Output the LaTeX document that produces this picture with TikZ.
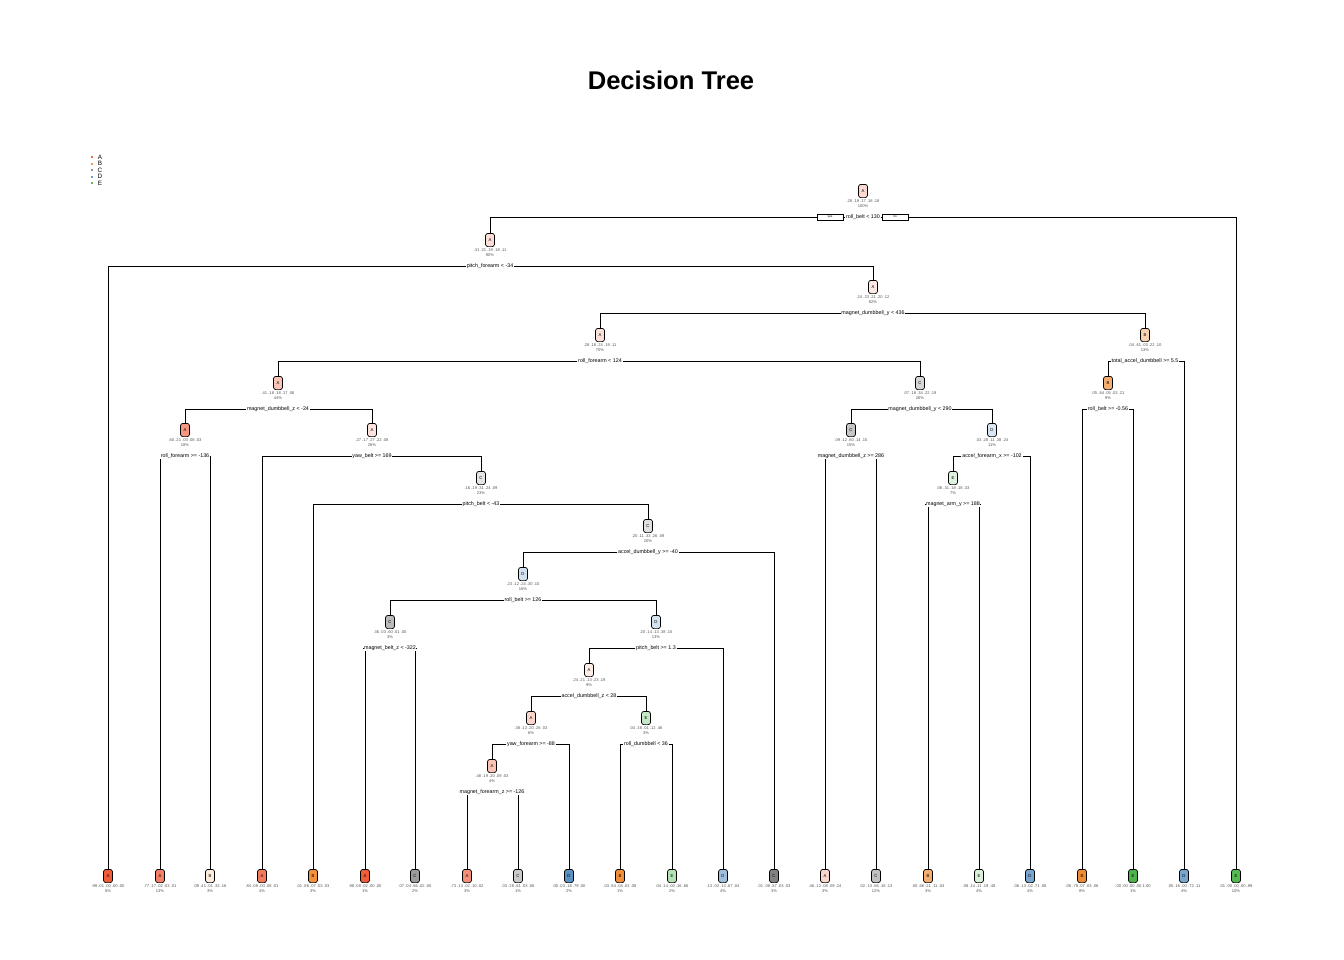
\documentclass[tikz,border=0pt]{standalone}
\usepackage{fontspec}
\setmainfont{Liberation Sans}
\usetikzlibrary{backgrounds}
\definecolor{clsA}{HTML}{F26B4B}
\definecolor{clsB}{HTML}{F39A4E}
\definecolor{clsC}{HTML}{979797}
\definecolor{clsD}{HTML}{6A9CC9}
\definecolor{clsE}{HTML}{5DBB5D}
\definecolor{infotext}{HTML}{555555}

% one tree node: name, x, y, class, fill, probabilities, percent
\newcommand{\tnode}[7]{%
  \node[nbox,fill=#5] (#1) at (#2,#3) {#4};
  \node[info] (#1-i) at ([yshift=-0.3125cm]#1.center) {#6\\#7};}
% split label under a node
\newcommand{\tsplit}[2]{\node[split] (#1-s) at ([yshift=-0.65cm]#1.center) {#2};}

\begin{document}
\begin{tikzpicture}[x=0.025cm,y=-0.025cm,
    nbox/.style={draw,rounded corners=0.6mm,minimum width=0.225cm,minimum height=0.33cm,
      inner sep=0pt,line width=0.5pt,font=\fontsize{3}{3}\selectfont},
    info/.style={inner sep=0pt,align=center,text=infotext,font=\fontsize{2.9}{3.55}\selectfont},
    split/.style={fill=white,inner sep=0.4pt,font=\fontsize{3.8}{4}\selectfont},
    yesno/.style={draw,fill=white,inner sep=0pt,minimum width=0.65cm,minimum height=0.15cm,
      line width=0.5pt,font=\fontsize{2.2}{2.2}\selectfont},
    lmark/.style={fill,inner sep=0pt,minimum width=0.07cm,minimum height=0.05cm},
    legtxt/.style={inner sep=0pt,font=\fontsize{4.5}{4.5}\selectfont},
    edge/.style={line width=0.6pt}]
  \useasboundingbox (0,0) rectangle (1344,960);

  \node[font=\fontsize{18.2}{20}\selectfont\bfseries] (title) at (671,80) {Decision Tree};

  % legend
  \node[lmark,fill=clsA] (lgA) at (92,157) {};
  \node[lmark,fill=clsB] (lgB) at (92,163.6) {};
  \node[lmark,fill=clsC] (lgC) at (92,170.2) {};
  \node[lmark,fill=clsD] (lgD) at (92,176.8) {};
  \node[lmark,fill=clsE] (lgE) at (92,183.4) {};
  \node[legtxt] (lgA-t) at (100,157) {A};
  \node[legtxt] (lgB-t) at (100,163.6) {B};
  \node[legtxt] (lgC-t) at (100,170.2) {C};
  \node[legtxt] (lgD-t) at (100,176.8) {D};
  \node[legtxt] (lgE-t) at (100,183.4) {E};

  % inner nodes
  \tnode{n1}{863}{191}{A}{clsA!25}{.28 .19 .17 .16 .18}{100\%}
  \tsplit{n1}{roll\_belt < 130}
  \node[yesno] (yes) at (830,217) {yes};
  \node[yesno] (no) at (895,217) {no};
  \tnode{n2}{490}{240}{A}{clsA!22}{.31 .21 .19 .18 .11}{90\%}
  \tsplit{n2}{pitch\_forearm < -34}
  \tnode{n5}{873}{287}{A}{clsA!15}{.24 .23 .21 .20 .12}{82\%}
  \tsplit{n5}{magnet\_dumbbell\_y < 436}
  \tnode{n10}{600}{335}{A}{clsA!20}{.28 .18 .24 .19 .11}{70\%}
  \tsplit{n10}{roll\_forearm < 124}
  \tnode{n11}{1145}{335}{B}{clsB!45}{.04 .61 .03 .22 .10}{13\%}
  \tsplit{n11}{total\_accel\_dumbbell >= 5.5}
  \tnode{n20}{278}{383}{A}{clsA!40}{.41 .18 .18 .17 .06}{44\%}
  \tsplit{n20}{magnet\_dumbbell\_z < -24}
  \tnode{n21}{920}{383}{C}{clsC!40}{.07 .18 .34 .22 .19}{26\%}
  \tsplit{n21}{magnet\_dumbbell\_y < 290}
  \tnode{n22}{1108}{383}{B}{clsB!80}{.05 .64 .05 .03 .21}{9\%}
  \tsplit{n22}{roll\_belt >= -0.56}
  \tnode{n40}{185}{430}{A}{clsA!70}{.60 .21 .03 .08 .03}{18\%}
  \tsplit{n40}{roll\_forearm >= -136}
  \tnode{n41}{372}{430}{A}{clsA!18}{.27 .17 .27 .22 .08}{26\%}
  \tsplit{n41}{yaw\_belt >= 169}
  \tnode{n42}{851}{430}{C}{clsC!55}{.09 .12 .60 .14 .15}{15\%}
  \tsplit{n42}{magnet\_dumbbell\_z >= 286}
  \tnode{n43}{992}{430}{D}{clsD!25}{.03 .28 .11 .38 .24}{11\%}
  \tsplit{n43}{accel\_forearm\_x >= -102}
  \tnode{n83}{481}{478}{C}{clsC!25}{.16 .19 .31 .24 .09}{23\%}
  \tsplit{n83}{pitch\_belt < -43}
  \tnode{n86}{953}{478}{E}{clsE!20}{.08 .31 .18 .18 .33}{7\%}
  \tsplit{n86}{magnet\_arm\_y >= 188}
  \tnode{n167}{648}{526}{C}{clsC!30}{.20 .11 .33 .26 .09}{20\%}
  \tsplit{n167}{accel\_dumbbell\_y >= -40}
  \tnode{n334}{523}{574}{D}{clsD!30}{.23 .12 .24 .30 .10}{16\%}
  \tsplit{n334}{roll\_belt >= 126}
  \tnode{n668}{390}{622}{C}{clsC!65}{.36 .03 .60 .01 .00}{3\%}
  \tsplit{n668}{magnet\_belt\_z < -322}
  \tnode{n669}{656}{622}{D}{clsD!28}{.20 .14 .13 .38 .15}{13\%}
  \tsplit{n669}{pitch\_belt >= 1.3}
  \tnode{n1338}{589}{670}{A}{clsA!13}{.24 .21 .13 .23 .19}{9\%}
  \tsplit{n1338}{accel\_dumbbell\_z < 28}
  \tnode{n2676}{531}{718}{A}{clsA!28}{.38 .13 .20 .26 .03}{6\%}
  \tsplit{n2676}{yaw\_forearm >= -88}
  \tnode{n2677}{646}{718}{E}{clsE!35}{.04 .38 .01 .12 .46}{3\%}
  \tsplit{n2677}{roll\_dumbbell < 36}
  \tnode{n5352}{492}{766}{A}{clsA!40}{.48 .19 .20 .09 .03}{4\%}
  \tsplit{n5352}{magnet\_forearm\_z >= -126}

  % leaves
  \tnode{n4}{108}{876}{A}{clsA!110}{.99 .01 .00 .00 .00}{8\%}
  \tnode{n80}{160}{876}{A}{clsA!85}{.77 .17 .02 .03 .01}{13\%}
  \tnode{n81}{210}{876}{B}{clsB!20}{.09 .41 .01 .33 .16}{3\%}
  \tnode{n82}{262}{876}{A}{clsA!90}{.84 .09 .00 .06 .01}{4\%}
  \tnode{n166}{313}{876}{B}{clsB!110}{.01 .86 .07 .03 .03}{3\%}
  \tnode{n1336}{365}{876}{A}{clsA!110}{.98 .00 .02 .00 .00}{1\%}
  \tnode{n1337}{415}{876}{C}{clsC!95}{.07 .04 .86 .02 .00}{2\%}
  \tnode{n10704}{467}{876}{A}{clsA!75}{.73 .13 .02 .10 .02}{3\%}
  \tnode{n10705}{518}{876}{C}{clsC!50}{.03 .28 .61 .03 .06}{1\%}
  \tnode{n5353}{569}{876}{D}{clsD!110}{.00 .03 .18 .79 .00}{2\%}
  \tnode{n5354}{620}{876}{B}{clsB!110}{.03 .84 .04 .01 .08}{1\%}
  \tnode{n5355}{672}{876}{E}{clsE!45}{.04 .14 .00 .16 .66}{2\%}
  \tnode{n1339}{723}{876}{D}{clsD!65}{.13 .03 .13 .67 .04}{4\%}
  \tnode{n335}{774}{876}{C}{clsC!120}{.01 .08 .87 .03 .03}{3\%}
  \tnode{n84}{825}{876}{A}{clsA!28}{.46 .12 .08 .09 .24}{3\%}
  \tnode{n85}{876}{876}{C}{clsC!60}{.02 .13 .66 .16 .13}{12\%}
  \tnode{n172}{928}{876}{B}{clsB!80}{.00 .66 .21 .11 .03}{3\%}
  \tnode{n173}{979}{876}{E}{clsE!22}{.08 .14 .11 .19 .48}{4\%}
  \tnode{n87}{1030}{876}{D}{clsD!90}{.06 .13 .02 .71 .08}{4\%}
  \tnode{n44}{1082}{876}{B}{clsB!115}{.06 .79 .07 .03 .06}{8\%}
  \tnode{n45}{1133}{876}{E}{clsE!110}{.00 .00 .00 .00 1.00}{1\%}
  \tnode{n23}{1184}{876}{D}{clsD!90}{.05 .16 .00 .72 .11}{4\%}
  \tnode{n3}{1236}{876}{E}{clsE!105}{.01 .00 .00 .00 .99}{10\%}

  \begin{scope}[on background layer]
    \draw[edge] (n1-s) -| (n2.north);
    \draw[edge] (n1-s) -| (n3.north);
    \draw[edge] (n2-s) -| (n4.north);
    \draw[edge] (n2-s) -| (n5.north);
    \draw[edge] (n5-s) -| (n10.north);
    \draw[edge] (n5-s) -| (n11.north);
    \draw[edge] (n10-s) -| (n20.north);
    \draw[edge] (n10-s) -| (n21.north);
    \draw[edge] (n11-s) -| (n22.north);
    \draw[edge] (n11-s) -| (n23.north);
    \draw[edge] (n20-s) -| (n40.north);
    \draw[edge] (n20-s) -| (n41.north);
    \draw[edge] (n21-s) -| (n42.north);
    \draw[edge] (n21-s) -| (n43.north);
    \draw[edge] (n22-s) -| (n44.north);
    \draw[edge] (n22-s) -| (n45.north);
    \draw[edge] (n40-s) -| (n80.north);
    \draw[edge] (n40-s) -| (n81.north);
    \draw[edge] (n41-s) -| (n82.north);
    \draw[edge] (n41-s) -| (n83.north);
    \draw[edge] (n42-s) -| (n84.north);
    \draw[edge] (n42-s) -| (n85.north);
    \draw[edge] (n43-s) -| (n86.north);
    \draw[edge] (n43-s) -| (n87.north);
    \draw[edge] (n83-s) -| (n166.north);
    \draw[edge] (n83-s) -| (n167.north);
    \draw[edge] (n86-s) -| (n172.north);
    \draw[edge] (n86-s) -| (n173.north);
    \draw[edge] (n167-s) -| (n334.north);
    \draw[edge] (n167-s) -| (n335.north);
    \draw[edge] (n334-s) -| (n668.north);
    \draw[edge] (n334-s) -| (n669.north);
    \draw[edge] (n668-s) -| (n1336.north);
    \draw[edge] (n668-s) -| (n1337.north);
    \draw[edge] (n669-s) -| (n1338.north);
    \draw[edge] (n669-s) -| (n1339.north);
    \draw[edge] (n1338-s) -| (n2676.north);
    \draw[edge] (n1338-s) -| (n2677.north);
    \draw[edge] (n2676-s) -| (n5352.north);
    \draw[edge] (n2676-s) -| (n5353.north);
    \draw[edge] (n2677-s) -| (n5354.north);
    \draw[edge] (n2677-s) -| (n5355.north);
    \draw[edge] (n5352-s) -| (n10704.north);
    \draw[edge] (n5352-s) -| (n10705.north);
  \end{scope}
\end{tikzpicture}
\end{document}
